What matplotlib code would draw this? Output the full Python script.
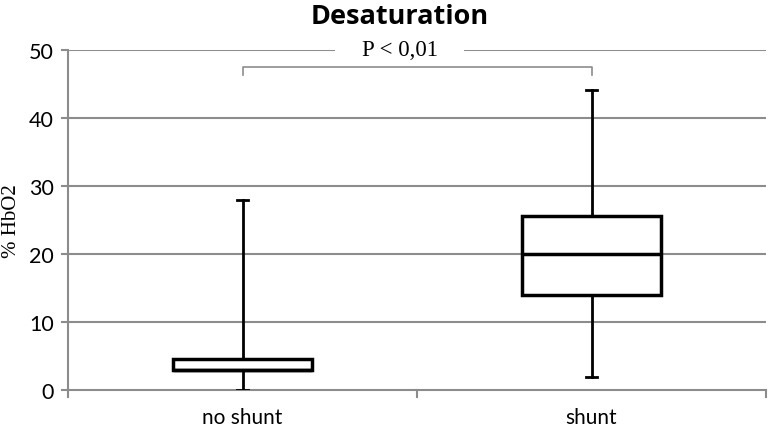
import matplotlib
matplotlib.use("Agg")
import matplotlib.pyplot as plt

categories = ["no shunt", "shunt"]
whislo = [0.0, 1.9]
q1 = [3.0, 14.0]
med = [3.0, 20.0]
q3 = [4.6, 25.6]
whishi = [27.9, 44.1]
yticks = [0, 10, 20, 30, 40, 50]
title = "Desaturation"
ylabel = "% HbO2"
ptext = "P < 0,01"

fig = plt.figure(figsize=(7.74, 4.31), dpi=100)
ax = fig.add_axes([68/774, 1-391/431, (766-68)/774, (391-51)/431])

grid_c = "#8c8c8c"
for y in yticks[1:]:
    ax.axhline(y, color=grid_c, lw=1.5, zorder=0)

stats = []
for i, c in enumerate(categories):
    stats.append(dict(label=c, whislo=whislo[i], q1=q1[i], med=med[i], q3=q3[i], whishi=whishi[i], fliers=[]))

pos = list(range(len(categories)))
ax.bxp(stats, positions=pos, widths=0.4, showfliers=False, patch_artist=True,
       boxprops=dict(facecolor="white", edgecolor="black", linewidth=2.5),
       medianprops=dict(color="black", linewidth=2.5),
       whiskerprops=dict(color="black", linewidth=2),
       capprops=dict(color="black", linewidth=2), capwidths=0.032, zorder=3)

ax.set_xlim(-0.5, 1.5)
ax.set_ylim(0, 50)
ax.set_yticks(yticks)
ax.set_yticklabels([str(v) for v in yticks], fontsize=15.5, family="Lato")
ax.set_xticks(pos)
ax.set_xticklabels(categories, fontsize=15, family="Lato")
ax.tick_params(axis="x", length=0, pad=12)
ax.tick_params(axis="y", length=5, color=grid_c, width=1.5, pad=5)

for s in ["top", "right"]:
    ax.spines[s].set_visible(False)
for s in ["left", "bottom"]:
    ax.spines[s].set_color(grid_c)
    ax.spines[s].set_linewidth(1.5)

# category divider ticks
for xv in [-0.5, 0.5, 1.5]:
    ax.plot([xv, xv], [0, -1.0], color=grid_c, lw=1.5, clip_on=False, zorder=1)

# significance bracket
ax.plot([0, 0, 1, 1], [46.3, 47.5, 47.5, 46.3], color=grid_c, lw=1.2, zorder=6)
ax.text(0.45, 50, ptext, ha="center", va="center", fontsize=16.5, family="Liberation Serif",
        bbox=dict(facecolor="white", edgecolor="none", pad=19), zorder=4, clip_on=False)

ax.set_ylabel(ylabel, fontsize=15, family="Liberation Serif", labelpad=6)
fig.text(400/774, 1-24/431, title, ha="center", va="baseline", fontsize=19.5, fontweight="bold", family="Open Sans")

fig.savefig("out.png", dpi=100)
